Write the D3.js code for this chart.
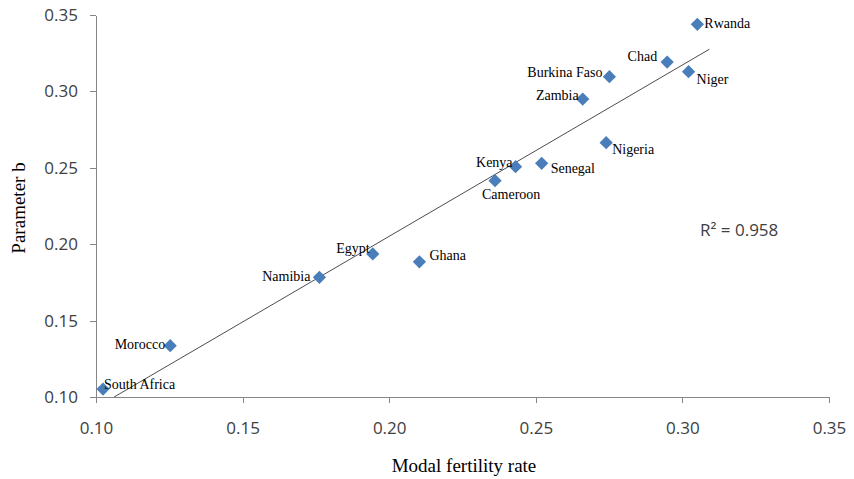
<!DOCTYPE html>
<html>
<head>
<meta charset="utf-8">
<script src="https://cdn.jsdelivr.net/npm/d3@7"></script>
<style>
  body { margin: 0; background: #fff; }
  svg { display: block; }
</style>
</head>
<body>
<div id="wrapper"></div>
<script>

// 1. Data
const countries = ["South Africa", "Morocco", "Namibia", "Egypt", "Ghana", "Cameroon", "Kenya",
    "Senegal", "Nigeria", "Zambia", "Burkina Faso", "Chad", "Niger", "Rwanda"]
const modalFertility = [0.1024, 0.1253, 0.1762, 0.1944, 0.2103, 0.2361, 0.2431,
    0.2520, 0.2740, 0.2660, 0.2751, 0.2948, 0.3021, 0.3051]
const parameterB = [0.1052, 0.1336, 0.1783, 0.1936, 0.1885, 0.2416, 0.2507,
    0.2529, 0.2664, 0.2950, 0.3096, 0.3192, 0.3129, 0.3439]

// linear trend line end points, as drawn
const trendX = [0.1062, 0.3092]
const trendY = [0.10, 0.3276]
const rSquared = "0.958"

const xTicks = [0.10, 0.15, 0.20, 0.25, 0.30, 0.35]
const yTicks = [0.10, 0.15, 0.20, 0.25, 0.30, 0.35]

// label placement next to each marker (dx, dy in px, text-anchor)
const labelPlacement = {
    "South Africa": [1, 0, "start"],
    "Morocco": [-5, 3, "end"],
    "Namibia": [-9, 4, "end"],
    "Egypt": [-3, -1, "end"],
    "Ghana": [10, -2, "start"],
    "Cameroon": [-13, 18, "start"],
    "Kenya": [-3, 0, "end"],
    "Senegal": [9, 10, "start"],
    "Nigeria": [6, 11, "start"],
    "Zambia": [-4, 1, "end"],
    "Burkina Faso": [-7, 0, "end"],
    "Chad": [-10, -1, "end"],
    "Niger": [8, 12, "start"],
    "Rwanda": [7, 4, "start"],
}

async function draw(){

    const dataset = countries.map((c, i) => ({
        name: c,
        x: modalFertility[i],
        y: parameterB[i],
    }))

    // 2. Chart dimensions
    const dimensions = {
        width: 854,
        height: 479,
        margin: { top: 15, right: 25, bottom: 82, left: 96 },
    }
    dimensions.boundedWidth = dimensions.width - dimensions.margin.left - dimensions.margin.right
    dimensions.boundedHeight = dimensions.height - dimensions.margin.top - dimensions.margin.bottom

    const tickFont = "'Open Sans', 'DejaVu Sans', sans-serif"
    const serifFont = "'Liberation Serif', 'Times New Roman', serif"

    // 3. Canvas
    const wrapper = d3.select("#wrapper")
        .append("svg")
        .attr("width", dimensions.width)
        .attr("height", dimensions.height)

    const bounds = wrapper.append("g")
        .attr("transform", `translate(${dimensions.margin.left}, ${dimensions.margin.top})`)

    // 4. Scales
    const xScale = d3.scaleLinear()
        .domain([0.10, 0.35])
        .range([0, dimensions.boundedWidth])

    const yScale = d3.scaleLinear()
        .domain([0.10, 0.35])
        .range([dimensions.boundedHeight, 0])

    // 5. Axes
    const xAxis = bounds.append("g")
        .attr("class", "x-axis")
        .attr("transform", `translate(0, ${dimensions.boundedHeight})`)
        .call(d3.axisBottom(xScale)
            .tickValues(xTicks)
            .tickFormat(d3.format(".2f"))
            .tickSizeInner(6)
            .tickSizeOuter(0))

    xAxis.selectAll("text")
        .attr("y", 32)
        .attr("dy", "0.32em")

    const yAxis = bounds.append("g")
        .attr("class", "y-axis")
        .call(d3.axisLeft(yScale)
            .tickValues(yTicks)
            .tickFormat(d3.format(".2f"))
            .tickSizeInner(6)
            .tickSizeOuter(0)
            .tickPadding(12))

    bounds.selectAll(".x-axis, .y-axis").selectAll("path, line")
        .attr("stroke", "#868686")
        .attr("shape-rendering", "crispEdges")

    bounds.selectAll(".x-axis text, .y-axis text")
        .attr("fill", "#404040")
        .style("font-family", tickFont)
        .style("font-size", "17px")

    // 6. Trend line
    bounds.append("line")
        .attr("class", "trend")
        .attr("x1", xScale(trendX[0]))
        .attr("y1", yScale(trendY[0]))
        .attr("x2", xScale(trendX[1]))
        .attr("y2", yScale(trendY[1]))
        .attr("stroke", "#4d4d4d")
        .attr("stroke-width", 1)

    // 7. Markers
    const diamond = d3.symbol().type(d3.symbolSquare).size(88)

    bounds.append("g")
        .attr("class", "markers")
        .selectAll("path")
        .data(dataset)
        .join("path")
        .attr("d", diamond)
        .attr("transform", d => `translate(${xScale(d.x)}, ${yScale(d.y)}) rotate(45)`)
        .attr("fill", "#4a7ebb")

    // 8. Data labels
    bounds.append("g")
        .attr("class", "labels")
        .selectAll("text")
        .data(dataset)
        .join("text")
        .attr("x", d => xScale(d.x) + labelPlacement[d.name][0])
        .attr("y", d => yScale(d.y) + labelPlacement[d.name][1])
        .attr("text-anchor", d => labelPlacement[d.name][2])
        .style("font-family", serifFont)
        .style("font-size", "14px")
        .attr("fill", "#000")
        .text(d => d.name)

    // 9. R squared
    bounds.append("text")
        .attr("x", xScale(0.306))
        .attr("y", yScale(0.2054))
        .style("font-family", tickFont)
        .style("font-size", "17px")
        .attr("fill", "#404040")
        .text(`R² = ${rSquared}`)

    // 10. Axis titles
    wrapper.append("text")
        .attr("x", 464)
        .attr("y", 472)
        .attr("text-anchor", "middle")
        .style("font-family", serifFont)
        .style("font-size", "19px")
        .attr("fill", "#000")
        .text("Modal fertility rate")

    wrapper.append("text")
        .attr("transform", "translate(25, 208) rotate(-90)")
        .attr("text-anchor", "middle")
        .style("font-family", serifFont)
        .style("font-size", "19px")
        .attr("fill", "#000")
        .text("Parameter b")
}

draw()
</script>
</body>
</html>
